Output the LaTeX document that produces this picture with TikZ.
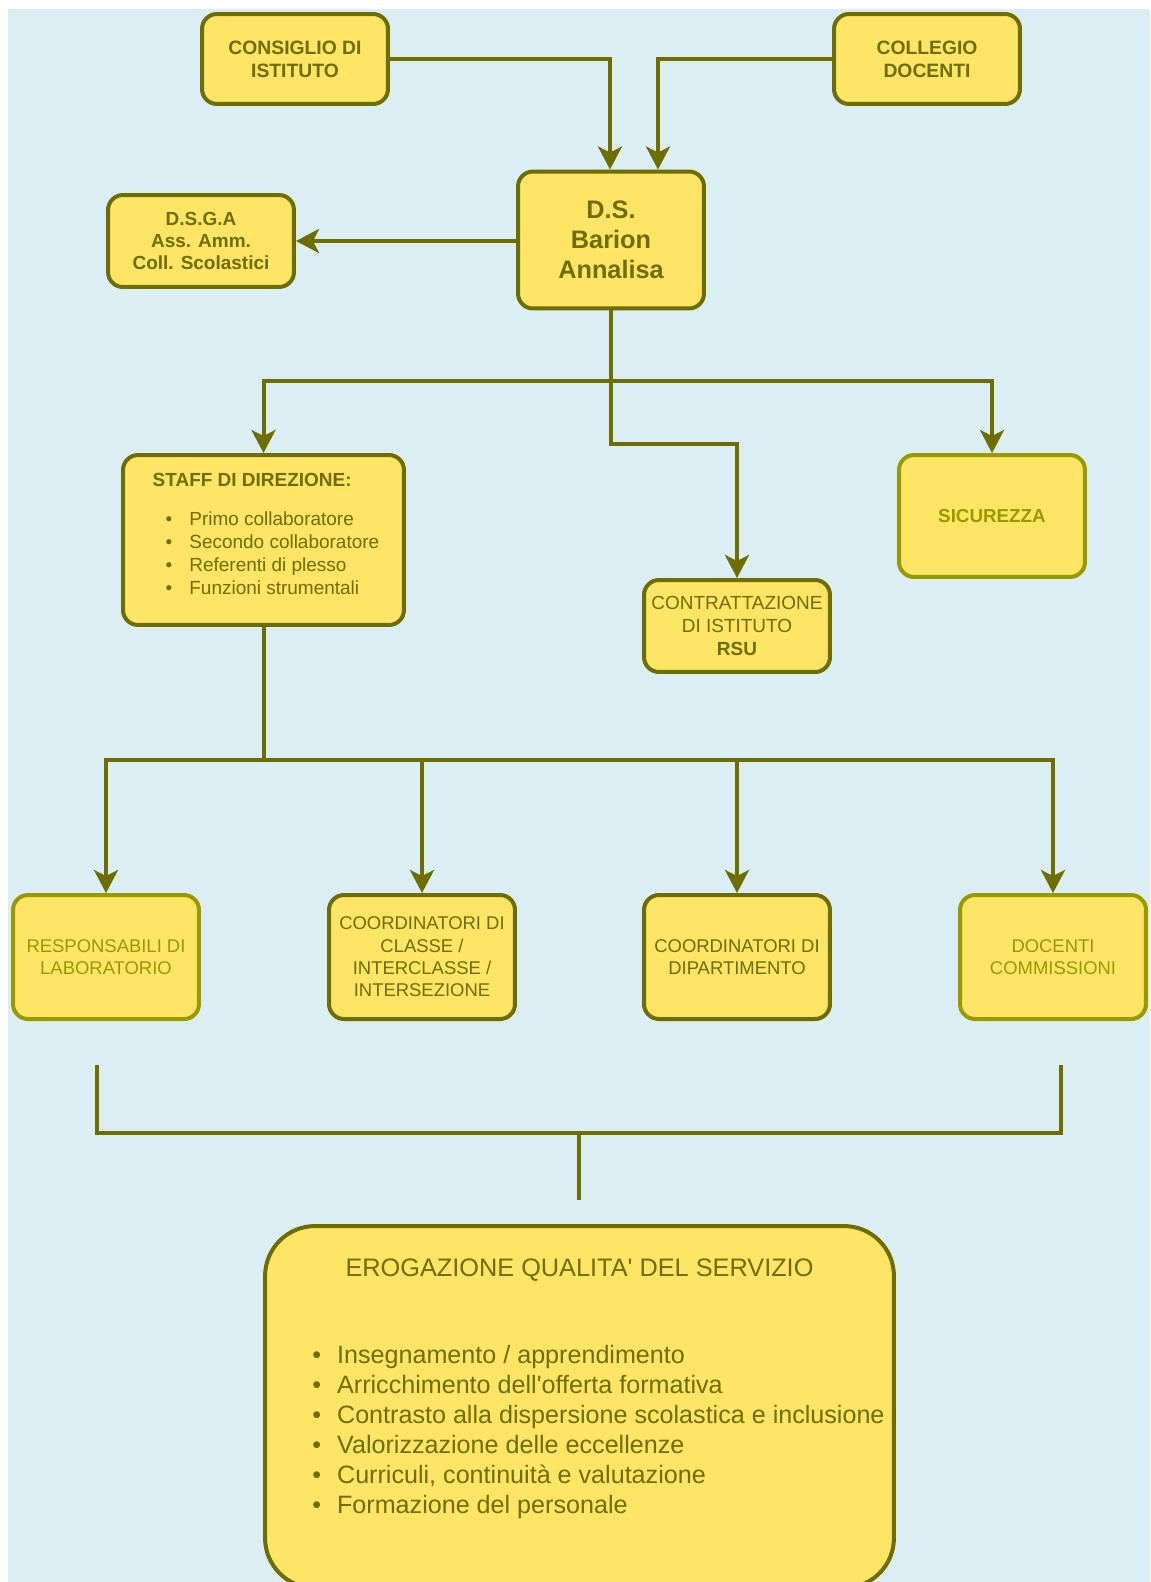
\documentclass[tikz,border=0pt]{standalone}
\usepackage{fontspec}
\setmainfont{Liberation Sans}
\usepackage{tikz}
\usepackage{xcolor}
\usetikzlibrary{arrows.meta}

\definecolor{bgblue}{HTML}{DBEEF4}
\definecolor{boxyellow}{HTML}{FFE566}
\definecolor{olivedark}{HTML}{6D6D00}
\definecolor{olivelight}{HTML}{999900}

\tikzset{
  box/.style={draw=olivedark, fill=boxyellow, line width=0.08cm, rounded corners=0.3cm,
    align=center, text=olivedark, inner sep=0pt, minimum width=3.72cm},
  lightbox/.style={box, draw=olivelight, text=olivelight},
  link/.style={draw=olivedark, line width=0.08cm},
  arr/.style={link, -{Stealth[length=0.46cm, width=0.48cm, inset=0.12cm]}},
  topfont/.style={font=\bfseries\fontsize{11}{13}\selectfont},
  lowfont/.style={font=\fontsize{10.5}{12.7}\selectfont}
}

\begin{document}
\begin{tikzpicture}[x=0.02cm, y=-0.02cm]
  \fill[bgblue] (8,9) rectangle (1150,1582);

  % top level
  \node[box, topfont, minimum height=1.8cm] (cons) at (295,59) {CONSIGLIO DI\\ISTITUTO};
  \node[box, topfont, minimum height=1.8cm] (coll) at (927,59) {COLLEGIO\\DOCENTI};
  \node[box, font=\bfseries\fontsize{14.4}{17}\selectfont, minimum height=2.74cm] (ds) at (611,240) {D.S.\\Barion\\Annalisa};
  \node[box, font=\bfseries\fontsize{10.8}{12.5}\selectfont, minimum height=1.84cm] (dsga) at (201,241) {D.S.G.A\\Ass. Amm.\\Coll. Scolastici};

  % middle level
  \node[box, minimum width=5.62cm, minimum height=3.4cm] (staff) at (263.5,540) {};
  \node[text=olivedark, align=left, inner sep=0pt, font=\fontsize{10.8}{13}\selectfont] (stafflist) at (266,534)
    {\textbf{STAFF DI DIREZIONE:}\\[9pt]
     \hspace{0.26cm}\textbullet\hspace{0.34cm}Primo collaboratore\\
     \hspace{0.26cm}\textbullet\hspace{0.34cm}Secondo collaboratore\\
     \hspace{0.26cm}\textbullet\hspace{0.34cm}Referenti di plesso\\
     \hspace{0.26cm}\textbullet\hspace{0.34cm}Funzioni strumentali};
  \node[box, font=\fontsize{10.8}{13}\selectfont, minimum height=1.84cm] (contr) at (737,626) {CONTRATTAZIONE\\DI ISTITUTO\\\textbf{RSU}};
  \node[lightbox, font=\bfseries\fontsize{10.7}{13}\selectfont, minimum height=2.44cm] (sic) at (992,516) {SICUREZZA};

  % lower level
  \node[lightbox, lowfont, minimum height=2.48cm] (resp) at (106,957) {RESPONSABILI DI\\LABORATORIO};
  \node[box, lowfont, minimum height=2.48cm] (ccl) at (422,957) {COORDINATORI DI\\CLASSE /\\INTERCLASSE /\\INTERSEZIONE};
  \node[box, lowfont, minimum height=2.48cm] (cdip) at (737,957) {COORDINATORI DI\\DIPARTIMENTO};
  \node[lightbox, lowfont, minimum height=2.48cm] (doc) at (1053,957) {DOCENTI\\COMMISSIONI};

  % bottom (runs past the lower edge)
  \node[box, rounded corners=1cm, minimum width=12.58cm, minimum height=7.24cm] (erog) at (579.5,1407) {};
  \node[text=olivedark, inner sep=0pt, font=\fontsize{14.4}{17}\selectfont] (erogtitle) at (579.5,1270) {EROGAZIONE QUALITA\textquotesingle{} DEL SERVIZIO};
  \node[text=olivedark, anchor=west, align=left, inner sep=0pt, font=\fontsize{14.3}{17}\selectfont] (erogitems) at (312,1432)
    {\textbullet\hspace{0.32cm}Insegnamento / apprendimento\\
     \textbullet\hspace{0.32cm}Arricchimento dell\textquotesingle offerta formativa\\
     \textbullet\hspace{0.32cm}Contrasto alla dispersione scolastica e inclusione\\
     \textbullet\hspace{0.32cm}Valorizzazione delle eccellenze\\
     \textbullet\hspace{0.32cm}Curriculi, continuità e valutazione\\
     \textbullet\hspace{0.32cm}Formazione del personale};

  % connectors
  \draw[arr] (cons.east) -| ([xshift=-0.02cm]ds.north);
  \draw[arr] (coll.west) -| ([xshift=0.94cm]ds.north);
  \draw[arr] (ds.west |- dsga.east) -- (dsga.east);

  \coordinate (bus1) at (611,381);
  \coordinate (bend1) at (611,444);
  \draw[link] (ds.south) -- (bus1);
  \draw[arr] (bus1) -| (staff.north);
  \draw[arr] (bus1) -| (sic.north);
  \draw[arr] (bus1) -- (bend1) -| (contr.north);

  \coordinate (bus2) at (263.5,760);
  \draw[link] (staff.south) -- (bus2);
  \foreach \n in {resp,ccl,cdip,doc}
    \draw[arr] (bus2) -| (\n.north);

  \coordinate (brl) at (97,1065);
  \coordinate (brr) at (1061,1065);
  \coordinate (brm) at (579,1133);
  \coordinate (stem) at (579,1200);
  \draw[link] (brl) |- (brm) -| (brr);
  \draw[link] (brm) -- (stem);

  \pgfresetboundingbox
  \useasboundingbox (0,0) rectangle (1150,1582);
\end{tikzpicture}
\end{document}
